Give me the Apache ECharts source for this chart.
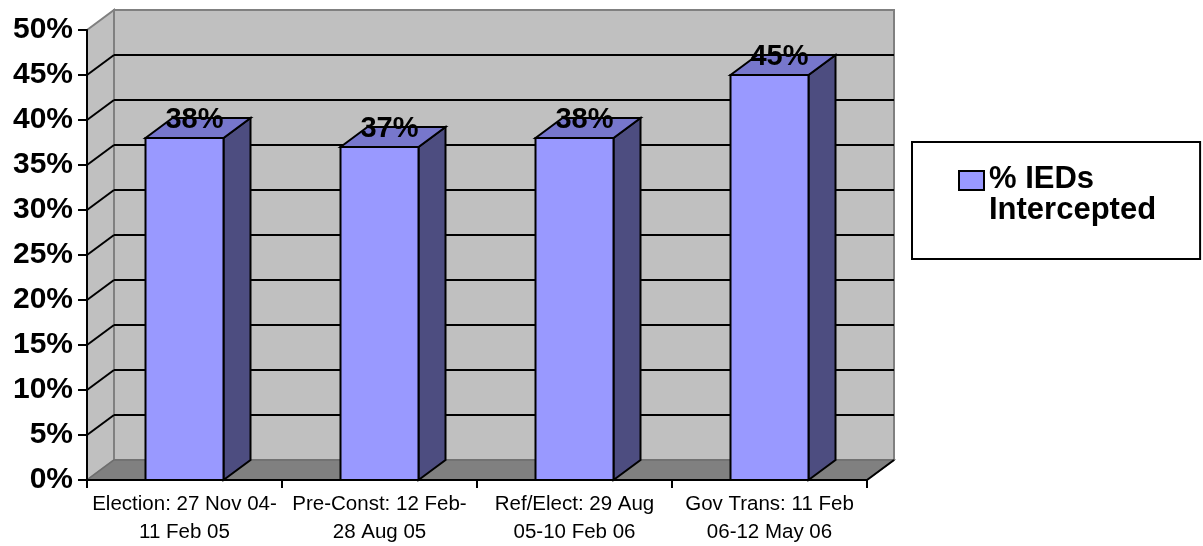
<!DOCTYPE html>
<html>
<head>
<meta charset="utf-8">
<script src="https://cdn.jsdelivr.net/npm/echarts@6/dist/echarts.min.js"></script>
<style>
html,body{margin:0;padding:0;background:#fff;}
#chart{width:1203px;height:546px;}
</style>
</head>
<body>
<div id="chart"></div>
<script>
// ---- data ----
const categories = [
  'Election: 27 Nov 04-\n11 Feb 05',
  'Pre-Const: 12 Feb-\n28 Aug 05',
  'Ref/Elect: 29 Aug\n05-10 Feb 06',
  'Gov Trans: 11 Feb\n06-12 May 06'
];
const interceptedPct = [38, 37, 38, 45];
const yTicks = [0, 5, 10, 15, 20, 25, 30, 35, 40, 45, 50];
const seriesName = '% IEDs Intercepted';
const legendLines = ['% IEDs', 'Intercepted'];

// ---- style ----
const FONT = '"Liberation Sans", Arial, sans-serif';
const DX = 27, DY = -20;
const FRONT = '#9999FF', TOP = '#7777CC', SIDE = '#4D4D80';

const chart = echarts.init(document.getElementById('chart'), null, {renderer: 'canvas'});

function renderWalls(params, api) {
  const cs = params.coordSys;
  const L = cs.x, R = cs.x + cs.width, T = cs.y, B = cs.y + cs.height;
  const ch = [];
  ch.push({type: 'polygon', shape: {points: [[L + DX, T + DY], [R + DX, T + DY], [R + DX, B + DY], [L + DX, B + DY]]},
    style: {fill: '#C0C0C0', stroke: '#808080', lineWidth: 2}});
  ch.push({type: 'polygon', shape: {points: [[L, T], [L + DX, T + DY], [L + DX, B + DY], [L, B]]},
    style: {fill: '#C0C0C0', stroke: '#808080', lineWidth: 2}});
  ch.push({type: 'polygon', shape: {points: [[L, B], [L + DX, B + DY], [R + DX, B + DY], [R, B]]},
    style: {fill: '#808080', stroke: '#6E6E6E', lineWidth: 1.5}});
  yTicks.forEach(function (t) {
    if (t === yTicks[0] || t === yTicks[yTicks.length - 1]) return;
    const y = api.coord([0, t])[1];
    ch.push({type: 'line', shape: {x1: L + DX, y1: y + DY, x2: R + DX, y2: y + DY}, style: {stroke: '#000', lineWidth: 2}});
    ch.push({type: 'line', shape: {x1: L, y1: y, x2: L + DX, y2: y + DY}, style: {stroke: '#000', lineWidth: 2}});
  });
  ch.push({type: 'line', shape: {x1: R, y1: B, x2: R + DX, y2: B + DY}, style: {stroke: '#000', lineWidth: 2}});
  return {type: 'group', children: ch, silent: true};
}

function renderBar(params, api) {
  const i = api.value(0), v = api.value(1);
  const base = api.coord([i, 0]);
  const top = api.coord([i, v]);
  const bw = api.size([1, 0])[0] * 0.4;
  const x0 = top[0] - bw / 2, x1 = top[0] + bw / 2;
  const yT = top[1], yB = base[1];
  const edge = {stroke: '#000', lineWidth: 2, lineJoin: 'miter'};
  return {
    type: 'group',
    children: [
      {type: 'polygon', shape: {points: [[x1, yB], [x1 + DX, yB + DY], [x1 + DX, yT + DY], [x1, yT]]},
        style: Object.assign({fill: SIDE}, edge)},
      {type: 'polygon', shape: {points: [[x0, yT], [x0 + DX, yT + DY], [x1 + DX, yT + DY], [x1, yT]]},
        style: Object.assign({fill: TOP}, edge)},
      {type: 'rect', shape: {x: x0, y: yT, width: bw, height: yB - yT},
        style: Object.assign({fill: FRONT}, edge)},
      {type: 'text', x: top[0] + 10, y: yT + DY + 2, z2: 100,
        style: {text: v + '%', fill: '#000', font: 'bold 29px ' + FONT, align: 'center', verticalAlign: 'middle'}}
    ]
  };
}

const option = {
  animation: false,
  backgroundColor: '#ffffff',
  grid: {left: 87, top: 30, width: 780, height: 451, containLabel: false},
  legend: {
    show: true,
    left: 912, top: 142,
    orient: 'vertical',
    padding: [21, 44, 32, 46],
    backgroundColor: '#ffffff',
    borderColor: '#000000',
    borderWidth: 2,
    borderRadius: 0,
    itemWidth: 25,
    itemHeight: 62,
    data: [{
      name: seriesName,
      icon: 'path://M0,0M0,7h25v19h-25zM0,62',
      itemStyle: {color: FRONT, borderColor: '#000', borderWidth: 2}
    }],
    formatter: function () { return legendLines.join('\n'); },
    textStyle: {fontFamily: FONT, fontWeight: 'bold', fontSize: 31, lineHeight: 31, color: '#000'},
    selectedMode: false
  },
  xAxis: {
    type: 'category',
    data: categories,
    z: 10,
    axisLine: {show: true, lineStyle: {color: '#000', width: 2}},
    axisTick: {show: true, length: 8, lineStyle: {color: '#000', width: 2}},
    axisLabel: {fontFamily: FONT, fontSize: 20.5, lineHeight: 28, color: '#000', margin: 10, interval: 0},
    splitLine: {show: false}
  },
  yAxis: {
    type: 'value',
    min: 0, max: 50, interval: 5,
    z: 10,
    axisLine: {show: true, lineStyle: {color: '#000', width: 2}},
    axisTick: {show: true, length: 9, lineStyle: {color: '#000', width: 2}},
    axisLabel: {fontFamily: FONT, fontWeight: 'bold', fontSize: 30, color: '#000', margin: 14, formatter: '{value}%'},
    splitLine: {show: false}
  },
  series: [
    {
      name: 'walls',
      type: 'custom',
      z: 1,
      silent: true,
      renderItem: renderWalls,
      data: [[0, 0]],
      tooltip: {show: false}
    },
    {
      name: seriesName,
      type: 'custom',
      z: 3,
      itemStyle: {color: FRONT},
      renderItem: renderBar,
      encode: {x: 0, y: 1},
      data: interceptedPct.map(function (v, i) { return [i, v]; })
    }
  ]
};
chart.setOption(option);
</script>
</body>
</html>
